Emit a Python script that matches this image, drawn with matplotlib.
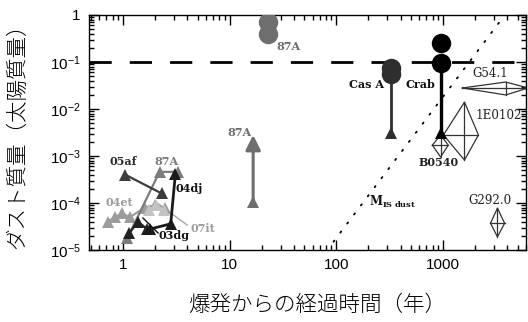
import matplotlib
matplotlib.use("Agg")
import matplotlib.pyplot as plt
from matplotlib.ticker import FixedLocator, FixedFormatter, LogLocator, NullFormatter

plt.rcParams["mathtext.fontset"] = "custom"
plt.rcParams["mathtext.rm"] = "Liberation Sans"
plt.rcParams["mathtext.it"] = "Liberation Sans:italic"
plt.rcParams["mathtext.bf"] = "DejaVu Serif:bold"
plt.rcParams["font.family"] = ["Liberation Sans", "Noto Sans CJK JP"]

# ---- data: time since explosion (yr) and dust mass (Msun) ----
# young supernovae (triangles, connected by lines)
sn05af_t = [1.05, 2.3]
sn05af_m = [4.0e-4, 1.6e-4]
sn87a_early_t = [1.1, 2.2, 3.3]
sn87a_early_m = [1.8e-5, 4.6e-4, 4.6e-4]
sn04et_t = [0.72, 0.84, 0.98, 1.16, 1.6, 2.0, 2.5]
sn04et_m = [4.0e-5, 5.0e-5, 6.0e-5, 5.0e-5, 8.0e-5, 9.0e-5, 8.0e-5]
sn07it_t = [1.75, 2.05, 2.4]
sn07it_m = [7.0e-5, 9.0e-5, 7.0e-5]
sn04dj_t = [3.1, 2.8, 1.8]
sn04dj_m = [4.2e-4, 3.6e-5, 2.8e-5]
sn03dg_t = [1.15, 1.38, 1.68]
sn03dg_m = [2.3e-5, 4.0e-5, 2.8e-5]

# SN 1987A at later epochs
sn87a_cold_t = [23, 23]
sn87a_cold_m = [0.71, 0.39]
sn87a_lim_t = 16.6
sn87a_lim_m = [1.05e-4, 2.8e-3]   # lower value, arrow tip

# Cas A and Crab: far-IR values (circles) and warm dust (triangle)
casa_t = 328
casa_m = [0.075, 0.055]
casa_warm_m = 3.1e-3
crab_t = 968
crab_m = [0.25, 0.095]
crab_warm_m = 3.1e-3

# remnants with ranges: (t_lo, t_c, t_hi, m_lo, m_c, m_hi)
remnant_names = ["G54.1", "1E0102", "B0540", "G292.0"]
remnant_t_lo = [1520, 1010, 795, 2790]
remnant_t_c = [3870, 1590, 950, 3240]
remnant_t_hi = [6300, 2150, 1120, 3780]
remnant_m_lo = [0.0199, 8.2e-4, 9.5e-4, 1.9e-5]
remnant_m_c = [0.028, 2.8e-3, 1.7e-3, 3.7e-5]
remnant_m_hi = [0.0375, 0.014, 2.8e-3, 7.8e-5]

# swept-up interstellar dust line
mis_t = [94, 3800]
mis_m = [1.5e-5, 1.0]

ref_mass = 0.1

x_ticks = [1, 10, 100, 1000]
x_labels = ["1", "10", "100", "1000"]
y_ticks = [1e-5, 1e-4, 1e-3, 1e-2, 1e-1, 1]
y_labels = [r"$10^{-5}$", r"$10^{-4}$", r"$10^{-3}$", r"$10^{-2}$", r"$10^{-1}$", "1"]

# ---- figure ----
W, H = 528, 322
fig = plt.figure(figsize=(W / 100, H / 100), dpi=100)
ax = fig.add_axes([89 / W, 1 - 250 / H, (526 - 89) / W, (250 - 15) / H])
ax.set_xscale("log")
ax.set_yscale("log")
ax.set_xlim(0.48, 6000)
ax.set_ylim(1e-5, 1)

# reference level and swept-up line
ax.axhline(ref_mass, color="black", lw=2.0, dashes=(8, 6.5), zorder=1)
ax.plot(mis_t, mis_m, color="black", lw=1.3, linestyle=(0, (0.8, 5.5)),
        dash_capstyle="round", zorder=1)

tri = dict(marker="^", ms=8.5, mew=0)


def series(t, m, c, lw=1.6, z=3):
    ax.plot(t, m, color=c, lw=lw, zorder=z, **tri, mfc=c)


series(sn04et_t, sn04et_m, "#9c9c9c")
series(sn07it_t, sn07it_m, "#c2c2c2")
series(sn87a_early_t, sn87a_early_m, "#7c7c7c")
series(sn05af_t, sn05af_m, "#3c3c3c")
series(sn03dg_t, sn03dg_m, "#222222")
series(sn04dj_t, sn04dj_m, "#1a1a1a", lw=2.0)

# 87A upper arrow
g87 = "#6e6e6e"
ax.annotate("", xy=(sn87a_lim_t, sn87a_lim_m[1]), xytext=(sn87a_lim_t, sn87a_lim_m[0]),
            arrowprops=dict(arrowstyle="-|>,head_length=0.9,head_width=0.45",
                            color=g87, lw=2.2, shrinkA=0, shrinkB=0), zorder=3)
ax.plot([sn87a_lim_t], [sn87a_lim_m[0]], color=g87, marker="^", ms=9, mew=0, zorder=4)

# 87A cold dust
ax.plot(sn87a_cold_t, sn87a_cold_m, "o", color=g87, ms=14, mew=0, zorder=4)

# Cas A
ca = "#2e2e2e"
ax.plot([casa_t, casa_t], [casa_warm_m, casa_m[1]], color=ca, lw=2.0, zorder=3)
ax.plot([casa_t], [casa_warm_m], "^", color=ca, ms=9, mew=0, zorder=4)
ax.plot([casa_t] * 2, casa_m, "o", color=ca, ms=14, mew=0, zorder=4)

# Crab
cb = "#000000"
ax.plot([crab_t, crab_t], [crab_warm_m, crab_m[1]], color=cb, lw=2.4, zorder=3)
ax.plot([crab_t], [crab_warm_m], "^", color=cb, ms=9, mew=0, zorder=4)
ax.plot([crab_t] * 2, crab_m, "o", color=cb, ms=14, mew=0, zorder=4)

# remnants drawn as diamonds with a cross
for tl, tc, th, ml, mc, mh in zip(remnant_t_lo, remnant_t_c, remnant_t_hi,
                                  remnant_m_lo, remnant_m_c, remnant_m_hi):
    ax.plot([tl, tc, th, tc, tl], [mc, mh, mc, ml, mc], color="#333333", lw=0.9, zorder=2)
    ax.plot([tl, th], [mc, mc], color="#333333", lw=0.9, zorder=2)
    ax.plot([tc, tc], [ml, mh], color="#333333", lw=0.9, zorder=2)

# leader lines
ax.plot([2.09, 3.99], [1.0e-4, 3.4e-5], color="#a8a8a8", lw=1.0, zorder=2)
ax.plot([1.54, 2.13], [4.8e-5, 2.3e-5], color="#111111", lw=1.0, zorder=5)

# labels
lab = dict(family="DejaVu Serif", fontsize=8, va="center")
B = dict(lab, weight="bold")
N = dict(lab, weight="normal")
N.update(fontsize=8.6)
ax.text(27.3, 0.21, "87A", color=g87, ha="left", **B)
ax.text(16.0, 3.1e-3, "87A", color=g87, ha="right", **B)
ax.text(282, 0.034, "Cas A", color="#111111", ha="right", **B)
ax.text(444, 0.034, "Crab", color="#111111", ha="left", **B)
ax.text(1900, 0.056, "G54.1", color="#222222", ha="left", **N)
ax.text(2000, 7.1e-3, "1E0102", color="#222222", ha="left", **N)
ax.text(589, 7.1e-4, "B0540", color="#222222", ha="left", **B)
ax.text(1720, 1.15e-4, "G292.0", color="#222222", ha="left", **N)
ax.text(0.755, 7.5e-4, "05af", color="#2a2a2a", ha="left", **B)
ax.text(1.95, 7.5e-4, "87A", color="#7c7c7c", ha="left", **B)
ax.text(3.08, 2.0e-4, "04dj", color="#111111", ha="left", **B)
ax.text(0.69, 1.05e-4, "04et", color="#9c9c9c", ha="left", **B)
ax.text(4.26, 2.8e-5, "07it", color="#9c9c9c", ha="left", **B)
ax.text(2.13, 2.0e-5, "03dg", color="#111111", ha="left", zorder=6, **B)
ax.text(204, 1.05e-4, r"$\mathbf{M}_{\mathbf{IS\ dust}}$", color="#111111",
        ha="left", va="center", fontsize=8.5)

# axes styling
for s in ax.spines.values():
    s.set_linewidth(1.0)
ax.xaxis.set_major_locator(FixedLocator(x_ticks))
ax.xaxis.set_major_formatter(FixedFormatter(x_labels))
ax.xaxis.set_minor_locator(LogLocator(base=10, subs=range(2, 10), numticks=20))
ax.xaxis.set_minor_formatter(NullFormatter())
ax.yaxis.set_major_locator(FixedLocator(y_ticks))
ax.yaxis.set_major_formatter(FixedFormatter(y_labels))
ax.yaxis.set_minor_locator(LogLocator(base=10, subs=range(2, 10), numticks=20))
ax.yaxis.set_minor_formatter(NullFormatter())
ax.tick_params(which="both", direction="in", top=True, right=True, width=1.0)
ax.tick_params(which="major", length=7, labelsize=11, pad=6)
ax.tick_params(which="minor", length=3.5)

fig.text(17 / W, 1 - 131 / H, "ダスト質量（太陽質量）", rotation=90, ha="center", va="center",
         fontsize=15.5, family=["Noto Sans CJK JP"], weight="light")
fig.text(317 / W, 1 - 305 / H, "爆発からの経過時間（年）", ha="center", va="center",
         fontsize=15.5, family=["Noto Sans CJK JP"], weight="light")

fig.savefig("out.png", dpi=100)
